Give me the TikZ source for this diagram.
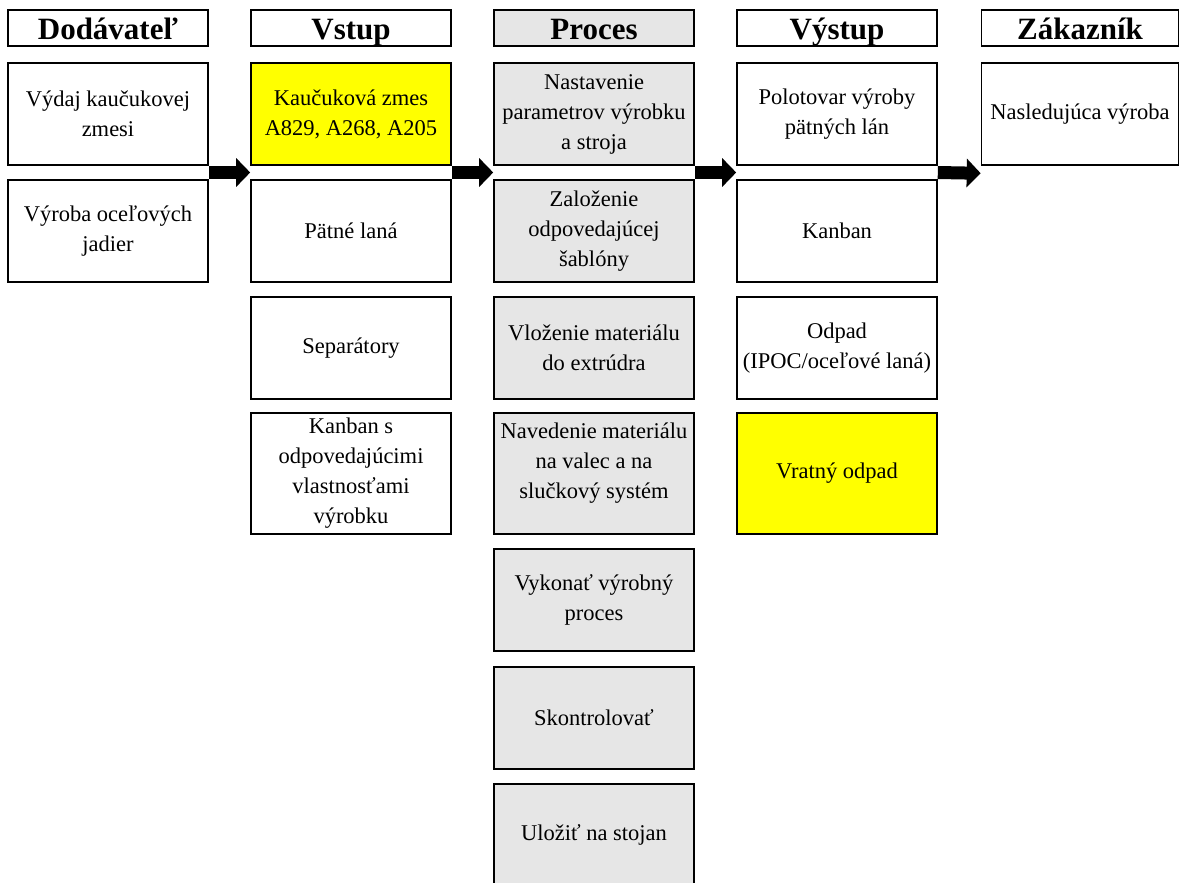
\documentclass[tikz,border=0pt]{standalone}
\usepackage{fontspec}
\setmainfont{Liberation Serif}
\usetikzlibrary{arrows.meta,calc}
\definecolor{procgray}{RGB}{230,230,230}
\definecolor{hlyellow}{RGB}{255,255,0}
\begin{document}
\begin{tikzpicture}[x=1pt,y=-1pt,
  hdr/.style={draw, line width=1.6pt, minimum width=200pt, minimum height=36pt,
    inner sep=0pt, text height=27pt, text depth=4pt,
    font=\fontsize{31}{34}\selectfont\bfseries},
  cell/.style={draw, line width=1.6pt, minimum width=200pt, minimum height=102pt,
    inner sep=1pt, align=center, font=\fontsize{22.5}{30}\selectfont},
  tall/.style={minimum height=121pt},
  proc/.style={fill=procgray},
  hl/.style={fill=hlyellow},
  flow/.style={line width=13pt, -{Triangle[length=14pt,width=28pt]}}]
\useasboundingbox (0,0) rectangle (1179,883);
% headers
\node[hdr] (d0) at (108,28) {Dodávateľ};
\node[hdr] (v0) at (351,28) {Vstup};
\node[hdr, proc] (p0) at (594,28) {Proces};
\node[hdr] (o0) at (837,28) {Výstup};
\node[hdr, minimum width=197pt] (z0) at (1080,28) {Zákazník};
% dodavatel
\node[cell] (d1) at (108,114) {Výdaj kaučukovej\\zmesi};
\node[cell] (d2) at (108,231) {Výroba oceľových\\jadier};
% vstup
\node[cell, hl] (v1) at (351,114) {Kaučuková zmes\\A829, A268, A205};
\node[cell] (v2) at (351,231) {Pätné laná};
\node[cell] (v3) at (351,348) {Separátory};
\node[cell, tall] (v4) at (351,473.5) {Kanban s\\odpovedajúcimi\\vlastnosťami\\výrobku};
% proces
\node[cell, proc] (p1) at (594,114) {Nastavenie\\parametrov výrobku\\a stroja};
\node[cell, proc] (p2) at (594,231) {Založenie\\odpovedajúcej\\šablóny};
\node[cell, proc] (p3) at (594,348) {Vloženie materiálu\\do extrúdra};
\node[cell, proc, tall] (p4) at (594,473.5)
  {\raisebox{5pt}[0pt][0pt]{\parbox{196pt}{\centering Navedenie materiálu\\na valec a na\\slučkový systém}}};
\node[cell, proc] (p5) at (594,600) {Vykonať výrobný\\proces};
\node[cell, proc] (p6) at (594,718) {Skontrolovať};
\node[cell, proc] (p7) at (594,835) {Uložiť na stojan};
% vystup
\node[cell] (o1) at (837,114) {Polotovar výroby\\pätných lán};
\node[cell] (o2) at (837,231) {Kanban};
\node[cell] (o3) at (837,348) {Odpad\\(IPOC/oceľové laná)};
\node[cell, hl, tall] (o4) at (837,473.5) {Vratný odpad};
% zakaznik
\node[cell, minimum width=197pt] (z1) at (1080,114) {Nasledujúca výroba};
% arrows
\coordinate (a1) at ($(d1.south east)!.5!(d2.north east)$);
\coordinate (b1) at ($(v1.south west)!.5!(v2.north west)$);
\coordinate (a2) at ($(v1.south east)!.5!(v2.north east)$);
\coordinate (b2) at ($(p1.south west)!.5!(p2.north west)$);
\coordinate (a3) at ($(p1.south east)!.5!(p2.north east)$);
\coordinate (b3) at ($(o1.south west)!.5!(o2.north west)$);
\coordinate (a4) at ($(o1.south east)!.5!(o2.north east)$);
\coordinate (b4) at ($(z1.south west)+(0,7.5)$);
\draw[flow] (a1) -- (b1);
\draw[flow] (a2) -- (b2);
\draw[flow] (a3) -- (b3);
\draw[flow] (a4) -- (b4);
\end{tikzpicture}
\end{document}
